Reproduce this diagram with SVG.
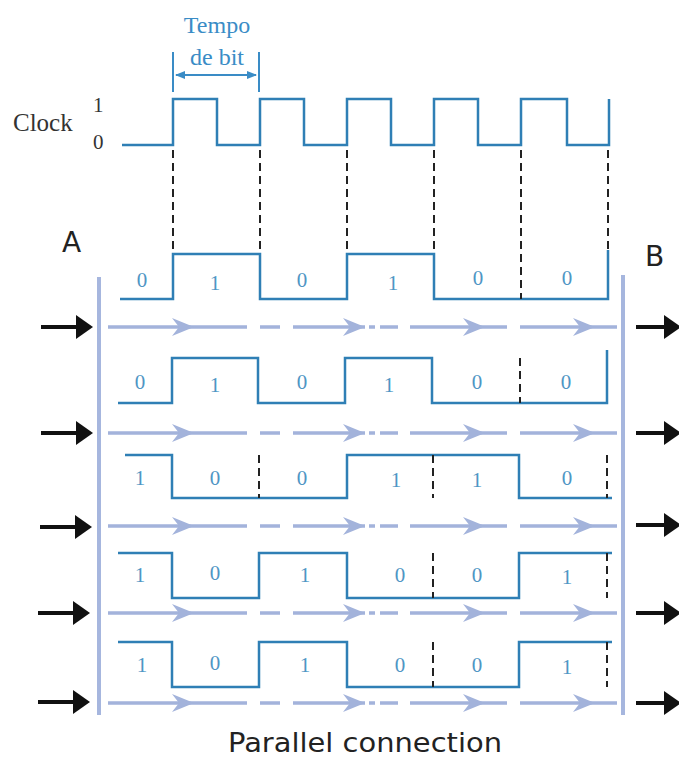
<svg xmlns="http://www.w3.org/2000/svg" xmlns:xlink="http://www.w3.org/1999/xlink" width="679" height="769" viewBox="0 0 679 769">
<style>
  .sig{fill:none;stroke:#2f7fb5;stroke-width:2.5}
  .dash{fill:none;stroke:#222;stroke-width:2;stroke-dasharray:8,5}
  .bit{font-family:"Liberation Serif",serif;font-size:21px;fill:#4e96c4;text-anchor:middle}
  .flow{fill:none;stroke:#a3b3db;stroke-width:3.5}
  .chev{fill:#a3b3db}
  .bar{fill:none;stroke:#a6b6de;stroke-width:4}
  .blk{fill:none;stroke:#111;stroke-width:4}
  .lbl{font-family:"Liberation Serif",serif;fill:#333}
  .hand{font-family:"DejaVu Sans",sans-serif;fill:#222}
</style>
<defs>
  <path id="chv" class="chev" d="M-22,-9 L0,0 L-22,9 L-15,0 Z"/>
  <path id="bh" d="M-17,-12 L0,0 L-17,12 Z" fill="#111"/>
  <marker id="ah" markerWidth="10" markerHeight="8" refX="9" refY="4" orient="auto-start-reverse" markerUnits="userSpaceOnUse">
    <path d="M0,0 L10,4 L0,8 Z" fill="#3a8cc6"/>
  </marker>
</defs>
<rect width="679" height="769" fill="#fff"/>

<g id="clock">
  <text class="lbl" x="13" y="131" font-size="25">Clock</text>
  <text class="lbl" x="93" y="112" font-size="21">1</text>
  <text class="lbl" x="93" y="149" font-size="21">0</text>
  <path class="sig" stroke="#3a8cc6" d="M122,145 H173 V99 H217 V145 H260 V99 H304 V145 H347 V99 H391 V145 H434 V99 H478 V145 H521 V99 H567 V145 H609 V99"/>
</g>

<g id="bit-time">
  <text x="217" y="33" font-family="'Liberation Serif',serif" font-size="24" fill="#3a8cc6" text-anchor="middle">Tempo</text>
  <text x="217" y="65" font-family="'Liberation Serif',serif" font-size="24" fill="#3a8cc6" text-anchor="middle">de bit</text>
  <line x1="173" y1="52" x2="173" y2="92" stroke="#3a8cc6" stroke-width="2"/>
  <line x1="259" y1="52" x2="259" y2="92" stroke="#3a8cc6" stroke-width="2"/>
  <line x1="176" y1="75" x2="256" y2="75" stroke="#3a8cc6" stroke-width="2" marker-start="url(#ah)" marker-end="url(#ah)"/>
</g>

<g id="clock-guides">
  <path class="dash" d="M173,150 V252 M260,150 V252 M347,150 V252 M434,150 V252 M521,150 V252 M608,150 V250"/>
</g>

<g id="labels-ab">
  <text class="hand" x="62" y="252" font-size="28">A</text>
  <text class="hand" x="645" y="266" font-size="28">B</text>
</g>

<g id="buses">
  <line class="bar" x1="99" y1="277" x2="99" y2="715"/>
  <line class="bar" x1="623" y1="275" x2="623" y2="715"/>
</g>

<g id="row1">
  <path class="sig" d="M120,299 H173 V254 H260 V299 H347 V254 H434 V299 H608 V250"/>
  <path class="dash" d="M521,254 V299"/>
  <text class="bit" x="142" y="287">0</text><text class="bit" x="215" y="290">1</text>
  <text class="bit" x="302" y="287">0</text><text class="bit" x="393" y="290">1</text>
  <text class="bit" x="478" y="285">0</text><text class="bit" x="567" y="285">0</text>
</g>
<g id="row2">
  <path class="sig" d="M118,403 H172 V358 H258 V403 H345 V358 H432 V403 H607 V350"/>
  <path class="dash" d="M520,358 V403"/>
  <text class="bit" x="140" y="389">0</text><text class="bit" x="215" y="392">1</text>
  <text class="bit" x="302" y="389">0</text><text class="bit" x="389" y="392">1</text>
  <text class="bit" x="477" y="389">0</text><text class="bit" x="566" y="389">0</text>
</g>
<g id="row3">
  <path class="sig" d="M125,455 H172 V498 H347 V455 H519 V498 H612"/>
  <path class="dash" d="M259,455 V498 M433,455 V498 M607,455 V498"/>
  <text class="bit" x="140" y="485">1</text><text class="bit" x="215" y="485">0</text>
  <text class="bit" x="302" y="485">0</text><text class="bit" x="396" y="487">1</text>
  <text class="bit" x="477" y="487">1</text><text class="bit" x="567" y="485">0</text>
</g>
<g id="row4">
  <path class="sig" d="M118,553 H172 V598 H259 V553 H347 V598 H519 V553 H612"/>
  <path class="dash" d="M433,553 V598 M607,553 V598"/>
  <text class="bit" x="140" y="582">1</text><text class="bit" x="215" y="580">0</text>
  <text class="bit" x="305" y="582">1</text><text class="bit" x="400" y="582">0</text>
  <text class="bit" x="477" y="582">0</text><text class="bit" x="567" y="584">1</text>
</g>
<g id="row5">
  <path class="sig" d="M118,642 H172 V687 H259 V642 H347 V687 H519 V642 H612"/>
  <path class="dash" d="M433,642 V687 M607,642 V687"/>
  <text class="bit" x="142" y="672">1</text><text class="bit" x="215" y="670">0</text>
  <text class="bit" x="305" y="672">1</text><text class="bit" x="400" y="672">0</text>
  <text class="bit" x="477" y="672">0</text><text class="bit" x="567" y="674">1</text>
</g>

<g id="connectors">
  <g id="flow1" transform="translate(0,327)">
    <path class="flow" d="M108,0 H247 M260,0 H280 M293,0 H365 M369,0 H375 M380,0 H398 M410,0 H507 M520,0 H617"/>
    <use xlink:href="#chv" x="194" y="0"/><use xlink:href="#chv" x="365" y="0"/><use xlink:href="#chv" x="485" y="0"/><use xlink:href="#chv" x="595" y="0"/>
  </g>
  <g id="flow2" transform="translate(0,433)">
    <path class="flow" d="M108,0 H247 M260,0 H280 M293,0 H365 M369,0 H375 M380,0 H398 M410,0 H507 M520,0 H617"/>
    <use xlink:href="#chv" x="194" y="0"/><use xlink:href="#chv" x="365" y="0"/><use xlink:href="#chv" x="485" y="0"/><use xlink:href="#chv" x="595" y="0"/>
  </g>
  <g id="flow3" transform="translate(0,526)">
    <path class="flow" d="M108,0 H247 M260,0 H280 M293,0 H365 M369,0 H375 M380,0 H398 M410,0 H507 M520,0 H617"/>
    <use xlink:href="#chv" x="194" y="0"/><use xlink:href="#chv" x="365" y="0"/><use xlink:href="#chv" x="485" y="0"/><use xlink:href="#chv" x="595" y="0"/>
  </g>
  <g id="flow4" transform="translate(0,613)">
    <path class="flow" d="M108,0 H247 M260,0 H280 M293,0 H365 M369,0 H375 M380,0 H398 M410,0 H507 M520,0 H617"/>
    <use xlink:href="#chv" x="194" y="0"/><use xlink:href="#chv" x="365" y="0"/><use xlink:href="#chv" x="485" y="0"/><use xlink:href="#chv" x="595" y="0"/>
  </g>
  <g id="flow5" transform="translate(0,703)">
    <path class="flow" d="M108,0 H247 M260,0 H280 M293,0 H365 M369,0 H375 M380,0 H398 M410,0 H507 M520,0 H617"/>
    <use xlink:href="#chv" x="194" y="0"/><use xlink:href="#chv" x="365" y="0"/><use xlink:href="#chv" x="485" y="0"/><use xlink:href="#chv" x="595" y="0"/>
  </g>
  <g id="inputs">
    <path class="blk" d="M41,327 H80 M41,433 H80 M40,527 H79 M38,613 H77 M38,702 H77"/>
    <use xlink:href="#bh" x="93" y="327"/><use xlink:href="#bh" x="93" y="433"/><use xlink:href="#bh" x="92" y="527"/><use xlink:href="#bh" x="90" y="613"/><use xlink:href="#bh" x="90" y="702"/>
  </g>
  <g id="outputs">
    <path class="blk" d="M636,327 H668 M636,433 H668 M636,525 H668 M636,613 H668 M636,703 H668"/>
    <use xlink:href="#bh" x="681" y="327"/><use xlink:href="#bh" x="681" y="433"/><use xlink:href="#bh" x="681" y="525"/><use xlink:href="#bh" x="681" y="613"/><use xlink:href="#bh" x="681" y="703"/>
  </g>
</g>

<text class="hand" x="228" y="752" font-size="26" textLength="274" lengthAdjust="spacingAndGlyphs">Parallel connection</text>
</svg>
